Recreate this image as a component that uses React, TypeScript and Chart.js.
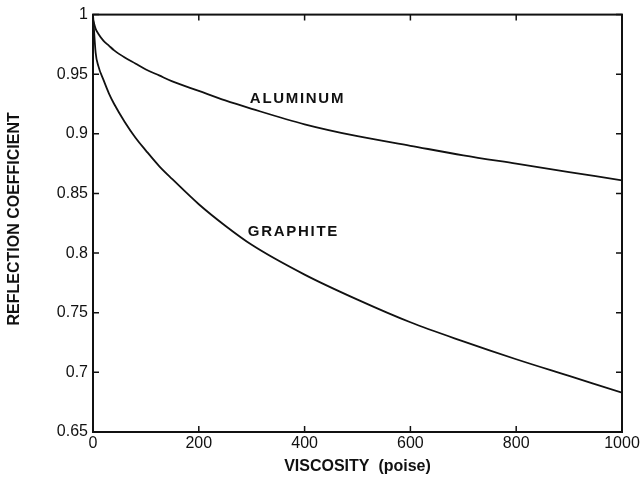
import React, { useEffect, useRef } from "react";
import { Chart, registerables } from "chart.js";

Chart.register(...registerables);

// Viscosity samples (poise) shared by both curves
const viscosity = [0, 5, 10, 20, 30, 40, 60, 80, 100, 125, 150, 200, 250, 300, 400, 500, 600, 700, 800, 900, 1000];

// Reflection coefficient of each material at the viscosities above
const aluminum = [0.996, 0.988, 0.984, 0.978, 0.974, 0.97, 0.964, 0.959, 0.954, 0.949, 0.944, 0.936, 0.928, 0.921, 0.908, 0.898, 0.89, 0.882, 0.875, 0.868, 0.861];
const graphite = [1.0, 0.968, 0.957, 0.945, 0.934, 0.925, 0.91, 0.897, 0.886, 0.873, 0.862, 0.841, 0.823, 0.807, 0.782, 0.761, 0.742, 0.726, 0.711, 0.697, 0.683];

// Curve labels and where they sit (data coordinates of the left edge / vertical centre)
const curveLabels = ["ALUMINUM", "GRAPHITE"];
const labelViscosity = [296.5, 292.7];
const labelReflection = [0.929, 0.8176];

const xTicks = [0, 200, 400, 600, 800, 1000];
const yMin = 0.65;
const yMax = 1.0;
const yStep = 0.05;

const FONT = '"Liberation Sans", Arial, Helvetica, sans-serif';
const INK = "#111";

const toPoints = (ys: number[]) => viscosity.map((x, i) => ({ x, y: ys[i] }));

// Draws the boxed frame, inward tick marks on all four sides and the curve labels
const framePlugin = {
  id: "frameAndLabels",
  afterDraw(chart: any) {
    const { ctx, chartArea: a, scales } = chart;
    const xs = scales.x;
    const ys = scales.y;
    const L = 6;
    ctx.save();
    ctx.strokeStyle = INK;
    ctx.lineWidth = 2;
    ctx.strokeRect(a.left, a.top, a.right - a.left, a.bottom - a.top);

    ctx.lineWidth = 1.5;
    ctx.beginPath();
    xs.ticks.forEach((t: any) => {
      const px = xs.getPixelForValue(t.value);
      ctx.moveTo(px, a.bottom);
      ctx.lineTo(px, a.bottom - L);
      ctx.moveTo(px, a.top);
      ctx.lineTo(px, a.top + L);
    });
    ys.ticks.forEach((t: any) => {
      const py = ys.getPixelForValue(t.value);
      ctx.moveTo(a.left, py);
      ctx.lineTo(a.left + L, py);
      ctx.moveTo(a.right, py);
      ctx.lineTo(a.right - L, py);
    });
    ctx.stroke();

    ctx.fillStyle = INK;
    ctx.font = `bold 15px ${FONT}`;
    (ctx as any).letterSpacing = "1.7px";
    ctx.textAlign = "left";
    ctx.textBaseline = "middle";
    curveLabels.forEach((text, i) => {
      ctx.fillText(text, xs.getPixelForValue(labelViscosity[i]), ys.getPixelForValue(labelReflection[i]));
    });
    ctx.restore();
  },
};

export default function App() {
  const canvasRef = useRef<HTMLCanvasElement | null>(null);

  useEffect(() => {
    const canvas = canvasRef.current;
    if (!canvas) return;
    const lineStyle = {
      borderColor: INK,
      borderWidth: 1.8,
      pointRadius: 0,
      fill: false,
      cubicInterpolationMode: "monotone" as const,
    };
    const chart = new Chart(canvas, {
      type: "line",
      data: {
        datasets: [
          { label: "Aluminum", data: toPoints(aluminum), ...lineStyle },
          { label: "Graphite", data: toPoints(graphite), ...lineStyle },
        ],
      },
      options: {
        animation: false,
        responsive: false,
        layout: { padding: { left: 0, right: 20, top: 14, bottom: 0 } },
        plugins: {
          legend: { display: false },
          tooltip: { enabled: false },
        },
        scales: {
          x: {
            type: "linear",
            min: 0,
            max: 1000,
            afterBuildTicks: (s: any) => {
              s.ticks = xTicks.map((v) => ({ value: v }));
            },
            afterFit: (s: any) => {
              s.height = 51;
            },
            grid: { display: false, drawTicks: false },
            border: { display: false },
            ticks: {
              color: INK,
              padding: 2,
              maxRotation: 0,
              font: { family: FONT, size: 16 },
              callback: (v: any) => String(v),
            },
            title: {
              display: true,
              text: "VISCOSITY  (poise)",
              color: INK,
              font: { family: FONT, size: 16, weight: "bold" },
              padding: { top: 0, bottom: 7 },
            },
          },
          y: {
            type: "linear",
            min: yMin,
            max: yMax,
            ticks: {
              stepSize: yStep,
              color: INK,
              padding: 5,
              font: { family: FONT, size: 16 },
              callback: (v: any) => String(Number(Number(v).toFixed(2))),
            },
            afterFit: (s: any) => {
              s.width = 93;
            },
            grid: { display: false, drawTicks: false },
            border: { display: false },
            title: {
              display: true,
              text: "  REFLECTION COEFFICIENT",
              color: INK,
              font: { family: FONT, size: 16, weight: "bold" },
              padding: { top: 5, bottom: 0 },
            },
          },
        },
      },
      plugins: [framePlugin],
    });
    return () => chart.destroy();
  }, []);

  return (
    <div style={{ position: "fixed", left: 0, top: 0, width: 642, height: 483, background: "#fff" }}>
      <canvas ref={canvasRef} width={642} height={483} />
    </div>
  );
}
